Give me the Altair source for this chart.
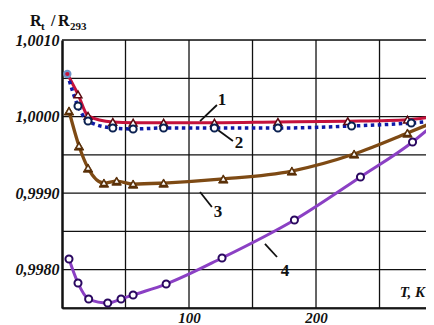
import altair as alt
import pandas as pd

# ---- data ----
T_START = 4.2
R_START = 1.000556
T_END = 293
T_MAX = 286.6

c1_T = [12.6, 20.5, 40, 56, 80, 120, 170, 225, 272]
c1_R = [1.00029, 1.00001, 0.99993, 0.99992, 0.99992, 0.99992, 0.99993, 0.99994, 0.99996]
c1_end = 1.00000

c2_T = [12.6, 20.5, 40, 56, 80, 120, 170, 228, 275]
c2_R = [1.000138, 0.999942, 0.999851, 0.999838, 0.999851, 0.99985, 0.99985, 0.999877, 0.999916]
c2_end = 0.99994

c3_T = [5.5, 13.4, 20.5, 33, 43, 56, 80, 127, 181, 230, 272]
c3_R = [1.000073, 0.999616, 0.999328, 0.999132, 0.999158, 0.999119, 0.999132, 0.999185, 0.999289, 0.999511, 0.999785]
c3_end = 0.999929

c4_T = [5.5, 12.6, 21, 36, 46.5, 56, 82, 126, 183, 235, 276]
c4_R = [0.99814, 0.997826, 0.997617, 0.997565, 0.997617, 0.99767, 0.997813, 0.998153, 0.998649, 0.999211, 0.999668]
c4_end = 0.99990

x_grid = [50, 100, 150, 200, 250]
x_labels = [100, 200]
y_grid = [0.9975, 0.9980, 0.9985, 0.9990, 0.9995, 1.0000, 1.0005, 1.0010]
y_labels = [0.9980, 0.9990, 1.0000, 1.0010]

lab_text = ["1", "2", "3", "4"]
lab_T = [126, 139.4, 122.8, 175.6]
lab_R = [1.000216, 0.999655, 0.998754, 0.997979]
lead_T1 = [108.7, 123.0, 108.7, 159.8]
lead_R1 = [0.99994, 0.99982, 0.999015, 0.998336]
lead_T2 = [122.0, 134.6, 118.0, 169.3]
lead_R2 = [1.000151, 0.999681, 0.998819, 0.998166]

W, H = 364, 268
FONT = "Liberation Serif"

xs = alt.Scale(domain=[0, T_MAX], nice=False, zero=False)
ys = alt.Scale(domain=[0.9975, 1.0010], nice=False, zero=False)

x_axis = alt.Axis(
    values=x_labels, grid=False, ticks=False, domain=True, domainColor="#333", domainWidth=2,
    labelFont=FONT, labelFontSize=15, labelFontWeight="bold", labelFontStyle="italic",
    labelColor="#111", labelPadding=2, title=None, format="d")
y_axis = alt.Axis(
    values=y_labels, grid=False, ticks=False, domain=True,
    domainColor="#111", domainWidth=2.5,
    labelExpr="replace(format(datum.value, '.4f'), '.', ',')",
    labelFont=FONT, labelFontSize=16, labelFontWeight="bold", labelFontStyle="italic",
    labelColor="#111", labelPadding=3, title=None)

X = alt.X("T:Q", scale=xs, axis=x_axis)
Y = alt.Y("R:Q", scale=ys, axis=y_axis)


def line_df(ts, rs, end, start=True):
    t = ([T_START] if start else []) + ts + [T_END]
    r = ([R_START] if start else []) + rs + [end]
    return pd.DataFrame({"T": t, "R": r})


def mk_df(ts, rs):
    return pd.DataFrame({"T": ts, "R": rs})


# grid
vgrid = alt.Chart(pd.DataFrame({"T": x_grid})).mark_rule(color="#111", strokeWidth=1.3).encode(x=X)
hgrid = alt.Chart(pd.DataFrame({"R": y_grid})).mark_rule(color="#111", strokeWidth=1.3).encode(y=Y)

# lines
l1 = alt.Chart(line_df(c1_T, c1_R, c1_end)).mark_line(
    color="#c4123c", strokeWidth=3, interpolate="monotone", clip=True).encode(x=X, y=Y)
l2 = alt.Chart(line_df(c2_T, c2_R, c2_end)).mark_line(
    color="#0f1aa6", strokeWidth=3.5, strokeDash=[3.5, 3.5], interpolate="monotone", clip=True).encode(x=X, y=Y)
l3 = alt.Chart(line_df(c3_T, c3_R, c3_end, start=False)).mark_line(
    color="#7e4a14", strokeWidth=3.3, interpolate="monotone", clip=True).encode(x=X, y=Y)
l4 = alt.Chart(line_df(c4_T, c4_R, c4_end, start=False)).mark_line(
    color="#8b40c4", strokeWidth=3, interpolate="monotone", clip=True).encode(x=X, y=Y)

# markers
m1 = alt.Chart(mk_df(c1_T, c1_R)).mark_point(
    shape="triangle-up", filled=True, fill="white", stroke="#5a0a10", strokeWidth=1.5, size=60, opacity=1
).encode(x=X, y=Y)
m2 = alt.Chart(mk_df(c2_T, c2_R)).mark_point(
    shape="circle", filled=True, fill="white", stroke="#0a2050", strokeWidth=2, size=50, opacity=1
).encode(x=X, y=Y)
m3a = alt.Chart(mk_df(c3_T, c3_R)).mark_point(
    shape="triangle-up", filled=True, fill="#5a3008", stroke="#5a3008", strokeWidth=1, size=90, opacity=1
).encode(x=X, y=Y)
m3b = alt.Chart(mk_df(c3_T, c3_R)).mark_point(
    shape="triangle-up", filled=True, fill="white", size=16, opacity=1
).encode(x=X, y=Y)
m4 = alt.Chart(mk_df(c4_T, c4_R)).mark_point(
    shape="circle", filled=True, fill="white", stroke="#2a0860", strokeWidth=2, size=50, opacity=1
).encode(x=X, y=Y)
ms_a = alt.Chart(mk_df([T_START], [R_START])).mark_point(
    shape="circle", filled=True, fill="#6f93c8", size=70, opacity=1).encode(x=X, y=Y)
ms_b = alt.Chart(mk_df([T_START], [R_START])).mark_point(
    shape="circle", filled=True, fill="#c4123c", size=18, opacity=1).encode(x=X, y=Y)

# annotations
lead = alt.Chart(pd.DataFrame({"T": lead_T1, "R": lead_R1, "T2": lead_T2, "R2": lead_R2})).mark_rule(
    color="#111", strokeWidth=1.8).encode(x=X, y=Y, x2="T2:Q", y2="R2:Q")
labs = alt.Chart(pd.DataFrame({"T": lab_T, "R": lab_R, "txt": lab_text})).mark_text(
    font=FONT, fontSize=17, fontWeight="bold", color="#111", align="center", baseline="middle"
).encode(x=X, y=Y, text="txt:N")

one = pd.DataFrame({"a": [0]})


def ptext(txt, px, py, size, style="normal", align="left"):
    return alt.Chart(one).mark_text(
        text=txt, font=FONT, fontSize=size, fontWeight="bold", fontStyle=style,
        color="#111", align=align, baseline="alphabetic"
    ).encode(x=alt.value(px), y=alt.value(py))


title_parts = [
    ptext("R", -32, -14, 16),
    ptext("t", -21, -10.5, 11),
    ptext("/", -11, -14, 16),
    ptext("R", -4, -14, 16),
    ptext("293", 8, -10.5, 11),
    ptext("T, K", W - 1, H - 11, 15, style="italic", align="right"),
]

chart = alt.layer(
    vgrid, hgrid, l4, l3, l1, l2, m4, m3a, m3b, m1, m2, ms_a, ms_b, lead, labs, *title_parts
).properties(
    width=W, height=H,
    autosize=alt.AutoSizeParams(type="none"),
    padding={"left": 54, "top": 32, "right": 0, "bottom": 17},
).configure_view(stroke=None).configure(background="white")

chart.save("out.html", embed_options={"renderer": "svg", "actions": False})
